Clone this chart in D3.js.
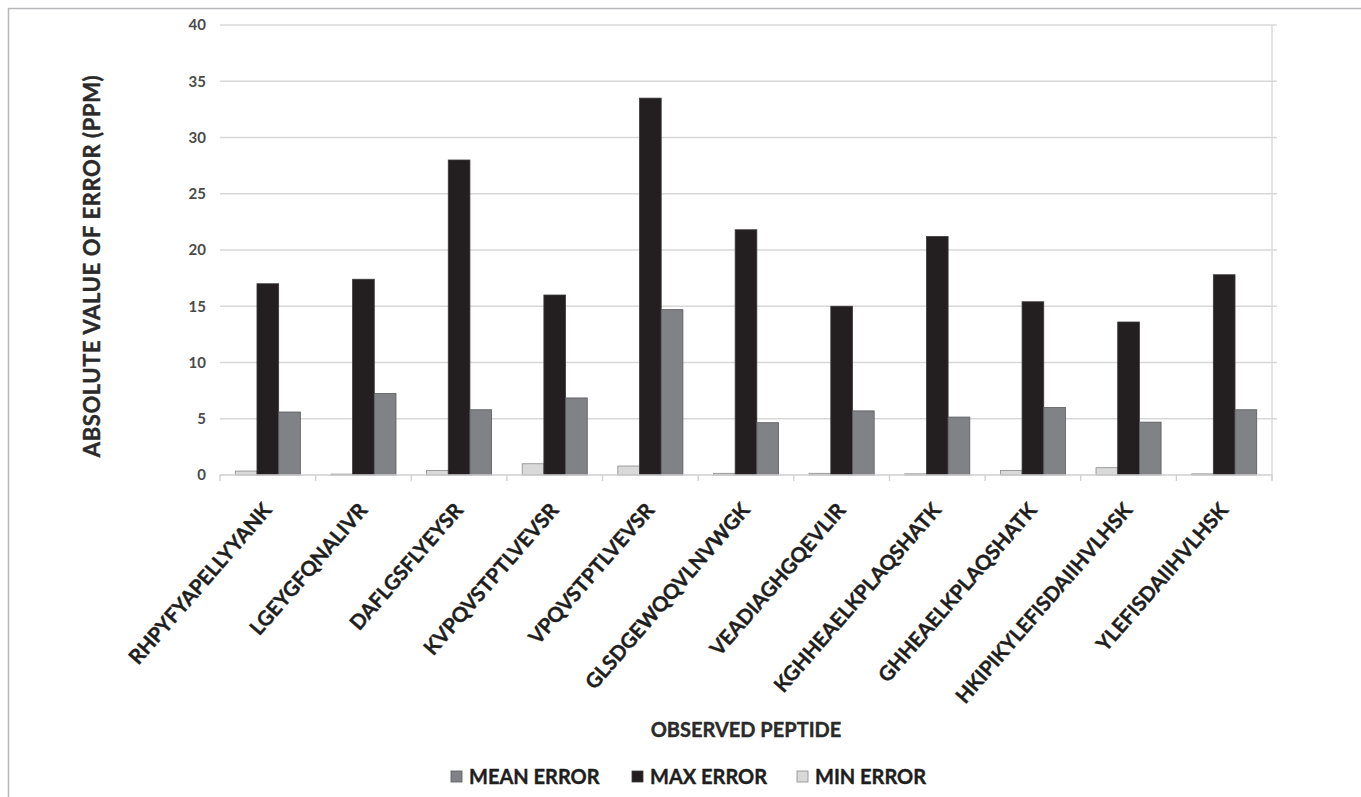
<!DOCTYPE html>
<html>
<head>
<meta charset="utf-8">
<script src="https://cdn.jsdelivr.net/npm/d3@7"></script>
<style>
  html, body { margin: 0; padding: 0; background: #fff; }
  svg { display: block; }
</style>
</head>
<body>
<svg id="chart" width="1361" height="797"></svg>
<script>
const categories = ["RHPYFYAPELLYYANK", "LGEYGFQNALIVR", "DAFLGSFLYEYSR", "KVPQVSTPTLVEVSR",
  "VPQVSTPTLVEVSR", "GLSDGEWQQVLNVWGK", "VEADIAGHGQEVLIR", "KGHHEAELKPLAQSHATK",
  "GHHEAELKPLAQSHATK", "HKIPIKYLEFISDAIIHVLHSK", "YLEFISDAIIHVLHSK"];
const meanError = [5.6, 7.25, 5.8, 6.85, 14.7, 4.65, 5.7, 5.15, 6.0, 4.7, 5.8];
const maxError  = [17.0, 17.4, 28.0, 16.0, 33.5, 21.8, 15.0, 21.2, 15.4, 13.6, 17.8];
const minError  = [0.35, 0.08, 0.4, 1.0, 0.8, 0.15, 0.15, 0.1, 0.4, 0.65, 0.1];
const yTicks = [0, 5, 10, 15, 20, 25, 30, 35, 40];
const seriesOrder = ["min", "max", "mean"];
const legendOrder = ["mean", "max", "min"];
const seriesLabels = { mean: "MEAN ERROR", max: "MAX ERROR", min: "MIN ERROR" };
const seriesValues = { mean: meanError, max: maxError, min: minError };
const colors = { mean: "#808285", max: "#231f20", min: "#d9d9d9" };
const strokes = { mean: "#5a5a5c", max: "#3a3a3a", min: "#8a8a8a" };

(function () {
const svg = d3.select("#chart");
const FONT = "Lato, 'Open Sans', sans-serif";

// outer frame
svg.append("path").attr("d", "M8.5,797 L8.5,8.5 L1361,8.5")
  .attr("fill", "none").attr("stroke", "#b8b8bc").attr("stroke-width", 1.5);

const pLeft = 220, pRight = 1272, pTop = 25, pBottom = 475;
const x = d3.scaleBand().domain(categories).range([pLeft, pRight]).padding(0);
const xi = d3.scaleBand().domain(seriesOrder).range([0, x.bandwidth()]).paddingInner(0).paddingOuter(0.705);
const y = d3.scaleLinear().domain([0, 40]).range([pBottom, pTop]);

// gridlines
svg.append("g").selectAll("line").data(yTicks.filter(d => d > 0)).join("line")
  .attr("x1", pLeft).attr("x2", pRight + 5)
  .attr("y1", d => y(d)).attr("y2", d => y(d))
  .attr("stroke", "#d8d8d8").attr("stroke-width", 1.3);
// right border line
svg.append("line").attr("x1", pRight).attr("x2", pRight).attr("y1", y(40)).attr("y2", y(0) + 5)
  .attr("stroke", "#d6d6d6").attr("stroke-width", 1.3);

// y tick labels
svg.append("g").selectAll("text").data(yTicks).join("text")
  .attr("x", 206).attr("y", d => y(d)).attr("dy", "0.35em")
  .attr("text-anchor", "end").attr("font-family", FONT).attr("font-size", 15)
  .attr("font-weight", 700).attr("fill", "#4a4a4a").text(d => d);

// bars
const groups = svg.append("g").selectAll("g").data(categories).join("g")
  .attr("transform", d => `translate(${x(d)},0)`);
groups.selectAll("rect").data((d, i) => seriesOrder.map(k => ({ k, v: seriesValues[k][i] }))).join("rect")
  .attr("x", d => xi(d.k)).attr("width", xi.bandwidth())
  .attr("y", d => y(d.v)).attr("height", d => y(0) - y(d.v))
  .attr("fill", d => colors[d.k]).attr("stroke", d => strokes[d.k]).attr("stroke-width", 0.8);

// x axis
const xAxis = svg.append("g");
xAxis.append("line").attr("x1", pLeft).attr("x2", pRight).attr("y1", pBottom).attr("y2", pBottom)
  .attr("stroke", "#cfcfcf").attr("stroke-width", 1.3);
const boundaries = categories.map(c => x(c)).concat([pRight]);
xAxis.selectAll("line.tick").data(boundaries).join("line").attr("class", "tick")
  .attr("x1", d => d).attr("x2", d => d).attr("y1", pBottom).attr("y2", pBottom + 6)
  .attr("stroke", "#cfcfcf").attr("stroke-width", 1.3);

// x labels
svg.append("g").selectAll("text").data(categories).join("text")
  .attr("transform", d => `translate(${x(d) + x.bandwidth() / 2 + 5},511) rotate(-49)`)
  .attr("text-anchor", "end").attr("font-family", FONT).attr("font-size", 20.5)
  .attr("font-weight", 700).attr("fill", "#1e1e1e")
  .attr("stroke", "#1e1e1e").attr("stroke-width", 0.4).text(d => d);

// axis titles
svg.append("text").attr("transform", `translate(100,266) rotate(-90)`)
  .attr("text-anchor", "middle").attr("font-family", FONT).attr("font-size", 22)
  .attr("letter-spacing", 0.6)
  .attr("font-weight", 700).attr("fill", "#2a2a2a")
  .attr("stroke", "#2a2a2a").attr("stroke-width", 0.4).text("ABSOLUTE VALUE OF ERROR (PPM)");
svg.append("text").attr("x", 746).attr("y", 737)
  .attr("text-anchor", "middle").attr("font-family", FONT).attr("font-size", 20)
  .attr("font-weight", 700).attr("fill", "#2a2a2a")
  .attr("stroke", "#2a2a2a").attr("stroke-width", 0.4).text("OBSERVED PEPTIDE");

// legend
const legendX = { mean: 451, max: 632, min: 797 };
const lg = svg.append("g").selectAll("g").data(legendOrder).join("g")
  .attr("transform", d => `translate(${legendX[d]},771)`);
lg.append("rect").attr("width", 11).attr("height", 11)
  .attr("fill", d => colors[d]).attr("stroke", d => strokes[d]).attr("stroke-width", 0.8);
lg.append("text").attr("x", 18).attr("y", 13).attr("font-family", FONT).attr("font-size", 20)
  .attr("font-weight", 700).attr("fill", "#1e1e1e")
  .attr("stroke", "#1e1e1e").attr("stroke-width", 0.4).text(d => seriesLabels[d]);
})();
</script>
</body>
</html>
